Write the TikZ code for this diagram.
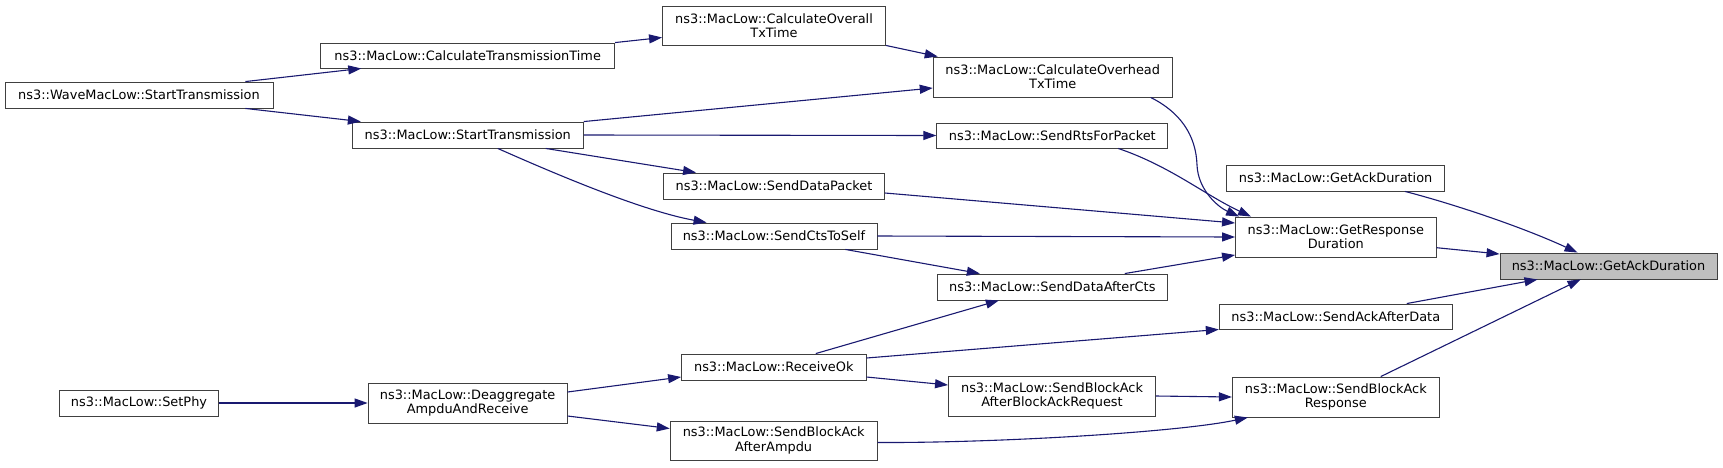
\documentclass[tikz,border=0pt]{standalone}
\usepackage{fontspec}
\setmainfont{DejaVu Sans}
\usetikzlibrary{arrows.meta}
\definecolor{edgecol}{RGB}{25,25,112}
\definecolor{mainfill}{RGB}{191,191,191}
\definecolor{boxline}{RGB}{64,64,64}
\begin{document}
\begin{tikzpicture}[x=1pt,y=-1pt,
  box/.style={draw=boxline, line width=0.9pt, fill=white, inner sep=0pt, align=center,
    font=\fontsize{12.9}{14.3}\selectfont, minimum height=26pt},
  tall/.style={minimum height=40pt},
  edge/.style={draw=edgecol, line width=1.1pt, -{Triangle[length=13pt,width=9pt]}}]
\useasboundingbox (0,0) rectangle (1723,467);
% column 1
\node[box, minimum width=268pt] (wave) at (139,95) {ns3::WaveMacLow::StartTransmission};
\node[box, minimum width=159pt] (phy) at (139,403) {ns3::MacLow::SetPhy};
% column 2
\node[box, minimum width=294pt, minimum height=25pt] (ctt) at (467.7,55.5) {ns3::MacLow::CalculateTransmissionTime};
\node[box, minimum width=231pt] (st) at (467.8,135) {ns3::MacLow::StartTransmission};
\node[box, tall, minimum width=199pt] (dea) at (467.6,403) {ns3::MacLow::Deaggregate\\AmpduAndReceive};
% column 3
\node[box, minimum width=223pt, minimum height=39pt] (cot) at (774,25.5) {ns3::MacLow::CalculateOverall\\TxTime};
\node[box, minimum width=221pt] (sdp) at (774,186) {ns3::MacLow::SendDataPacket};
\node[box, minimum width=206pt] (cts) at (774,236) {ns3::MacLow::SendCtsToSelf};
\node[box, minimum width=184.5pt] (rok) at (773.8,367) {ns3::MacLow::ReceiveOk};
\node[box, minimum width=207pt, minimum height=39pt] (sbaa) at (773.7,440.5) {ns3::MacLow::SendBlockAck\\AfterAmpdu};
% column 4
\node[box, tall, minimum width=239pt] (coh) at (1052.7,77) {ns3::MacLow::CalculateOverhead\\TxTime};
\node[box, minimum width=231pt, minimum height=25pt] (rts) at (1052.3,135.5) {ns3::MacLow::SendRtsForPacket};
\node[box, minimum width=230pt] (dac) at (1052.3,287) {ns3::MacLow::SendDataAfterCts};
\node[box, tall, minimum width=207pt] (sbar) at (1052,396) {ns3::MacLow::SendBlockAck\\AfterBlockAckRequest};
% column 5
\node[box, minimum width=218pt] (gad2) at (1335.6,178) {ns3::MacLow::GetAckDuration};
\node[box, tall, minimum width=200.6pt] (grd) at (1335.8,237) {ns3::MacLow::GetResponse\\Duration};
\node[box, minimum width=233pt, minimum height=25pt] (sad) at (1335.8,316.5) {ns3::MacLow::SendAckAfterData};
\node[box, tall, minimum width=207pt] (sbr) at (1335.8,397) {ns3::MacLow::SendBlockAck\\Response};
% column 6
\node[box, fill=mainfill, minimum width=217pt] (main) at (1608.5,266) {ns3::MacLow::GetAckDuration};
% edges
\draw[edge] ([xshift=-28pt]wave.north east) -- ([xshift=41pt]ctt.south west);
\draw[edge] ([xshift=-28pt]wave.south east) -- ([xshift=9pt]st.north west);
\draw[edge] (ctt.north east) -- ([yshift=-12pt]cot.west);
\draw[edge] (cot.south east) -- ([xshift=5pt]coh.north west);
\draw[edge] (st.north east) -- ([yshift=-11pt]coh.west);
\draw[edge] (st.east) -- (rts.west);
\draw[edge] ([xshift=-38pt]st.south east) -- ([xshift=33pt]sdp.north west);
\draw[edge] ([xshift=30pt]st.south) .. controls +(72,32) and +(-60,-11) .. ([xshift=36pt]cts.north west);
\draw[edge] ([xshift=-22pt]coh.south east) .. controls (1180,112) and (1196,135) .. (1197,165)
  .. controls (1198,190) and (1218,207) .. ([xshift=4pt]grd.north west);
\draw[edge] ([xshift=-50pt]rts.south east) .. controls (1170,166) and (1205,195) .. ([xshift=16pt]grd.north west);
\draw[edge] ([yshift=-7pt]sdp.east) -- ([yshift=14pt]grd.west);
\draw[edge] (cts.east) -- (grd.west);
\draw[edge] ([xshift=-43pt]dac.north east) -- ([yshift=-18pt]grd.west);
\draw[edge] ([xshift=-32pt]cts.south east) -- ([xshift=43pt]dac.north west);
\draw[edge] ([xshift=42pt]rok.north) -- ([xshift=62pt]dac.south west);
\draw[edge] ([yshift=9pt]rok.east) -- (sad.south west);
\draw[edge] ([yshift=11pt]dea.east) -- ([yshift=-10pt]rok.west);
\draw[edge] ([yshift=-13pt]dea.east) -- ([yshift=12pt]sbaa.west);
\draw[edge] (phy.east) -- (dea.west);
\draw[edge] ([yshift=-10pt]rok.east) -- ([yshift=11pt]sbar.west);
\draw[edge] (sbar.east) -- (sbr.west);
\draw[edge] ([yshift=-2pt]sbaa.east) .. controls (1000,443) and (1180,432) .. ([xshift=16pt]sbr.south west);
\draw[edge] ([xshift=-40pt]gad2.south east) .. controls (1450,203) and (1520,226) .. ([xshift=78pt]main.north west);
\draw[edge] ([yshift=-10.7pt]grd.east) -- ([yshift=12pt]main.west);
\draw[edge] ([xshift=-46pt]sad.north east) -- ([xshift=38pt]main.south west);
\draw[edge] ([xshift=-59pt]sbr.north east) -- ([xshift=81pt]main.south west);
\end{tikzpicture}
\end{document}
